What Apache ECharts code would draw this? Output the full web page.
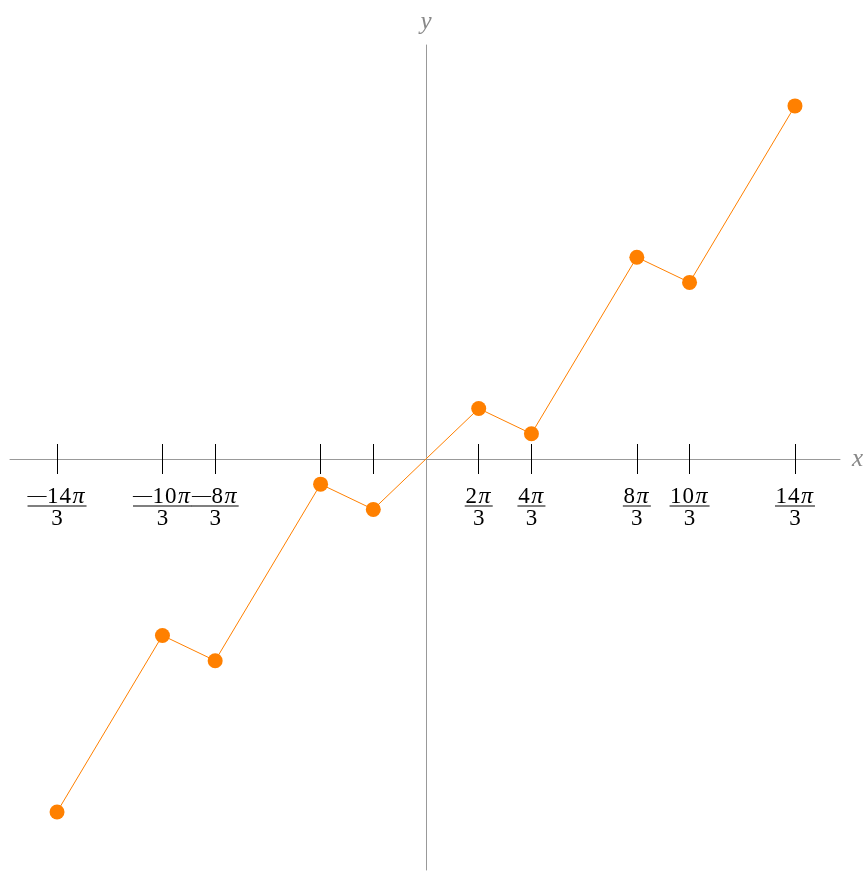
<!DOCTYPE html>
<html>
<head>
<meta charset="utf-8">
<script src="https://cdn.jsdelivr.net/npm/echarts@6/dist/echarts.min.js"></script>
<style>
html,body{margin:0;padding:0;background:#fff;}
#chart{width:866px;height:871px;}
</style>
</head>
<body>
<div id="chart"></div>
<script>
// Data: x in multiples of 2π/3, y in multiples of π/3
var xSteps = [-7, -5, -4, -2, -1, 1, 2, 4, 5, 7];
var ySteps = [-14, -7, -8, -1, -2, 2, 1, 8, 7, 14];
// Tick positions (multiples of 2π/3) and which get labels
var tickSteps = [-7, -5, -4, -2, -1, 1, 2, 4, 5, 7];
var labelSteps = [-7, -5, -4, 1, 2, 4, 5, 7];

var STEP = 2 * Math.PI / 3;
var YUNIT = Math.PI / 3;
var data = xSteps.map(function (k, i) { return [k * STEP, ySteps[i] * YUNIT]; });
var tickVals = tickSteps.map(function (k) { return k * STEP; });
var labelVals = labelSteps.map(function (k) { return k * STEP; });

var FONT = '"Liberation Serif", "Times New Roman", serif';
var FS = 23, FS_MINUS = 19, FS_PI = 24;
var DIGIT_PAD = 0.5, PI_PAD_L = 1, PI_PAD_R = 2;
var cv = document.createElement('canvas').getContext('2d');
function tw(t, size, italic) {
  cv.font = (italic ? 'italic ' : '') + size + 'px "Liberation Serif"';
  return cv.measureText(t).width;
}
var rich = {
  m: {fontFamily: FONT, fontSize: FS_MINUS, color: '#000', lineHeight: 17, align: 'center'},
  n: {fontFamily: FONT, fontSize: FS, color: '#000', lineHeight: 17, align: 'center', padding: [0, DIGIT_PAD, 0, DIGIT_PAD]},
  p: {fontFamily: FONT, fontSize: FS_PI, fontStyle: 'italic', color: '#000', lineHeight: 17, align: 'center', padding: [0, PI_PAD_R, 0, PI_PAD_L]},
  d: {fontFamily: FONT, fontSize: FS, color: '#000', lineHeight: 23, align: 'center'}
};
var MINUS = '\u2014';
function ruleKey(k) { return 'l' + (k < 0 ? 'm' + (-k) : k); }
labelSteps.forEach(function (k) {
  var s = '' + Math.abs(2 * k);
  var w = (k < 0 ? tw(MINUS, FS_MINUS, false) : 0) + tw('\u03c0', FS_PI, true) + PI_PAD_L + PI_PAD_R;
  for (var i = 0; i < s.length; i++) w += tw(s[i], FS, false) + 2 * DIGIT_PAD;
  rich[ruleKey(k)] = {width: Math.round(w), height: 1, lineHeight: 2, backgroundColor: '#000', align: 'center', fontSize: 2};
});

var W = 866, H = 871;
var XMIN = -16.53, XMAX = 16.45, YMIN = -17.07, YMAX = 17.19;
var GL = 10, GR = 26, GT = 45, GB = 1;
var zeroX = GL + (0 - XMIN) / (XMAX - XMIN) * (W - GL - GR);
var zeroY = GT + (YMAX - 0) / (YMAX - YMIN) * (H - GT - GB);
var zx = Math.round(zeroX), zy = Math.round(zeroY);

var hiddenX = function (g) { return {gridIndex: g, type: 'value', min: XMIN, max: XMAX, show: false}; };
var hiddenY = function (g) { return {gridIndex: g, type: 'value', min: YMIN, max: YMAX, show: false}; };
var AX = '#999';

var chart = echarts.init(document.getElementById('chart'));
chart.setOption({
  animation: false,
  backgroundColor: '#fff',
  grid: [
    {left: GL, right: GR, top: GT, bottom: GB, outerBoundsMode: 'none', containLabel: false},
    {left: GL, right: GR, top: GT, bottom: H - zy, outerBoundsMode: 'none', containLabel: false},
    {left: GL, right: GR, top: zy, bottom: GB, outerBoundsMode: 'none', containLabel: false},
    {left: GL, right: W - zx, top: GT, bottom: GB, outerBoundsMode: 'none', containLabel: false}
  ],
  xAxis: [
    hiddenX(0),
    {
      gridIndex: 1, type: 'value', min: XMIN, max: XMAX, position: 'bottom',
      name: 'x', nameLocation: 'end', nameGap: 12,
      nameTextStyle: {fontFamily: FONT, fontStyle: 'italic', fontSize: 25, color: '#888'},
      axisLine: {show: true, onZero: false, lineStyle: {color: AX, width: 1}},
      axisTick: {show: true, inside: false, length: 15, customValues: tickVals, lineStyle: {color: '#000', width: 1}},
      axisLabel: {
        show: true, margin: 29, customValues: labelVals, hideOverlap: false,
        formatter: function (v) {
          var k = Math.round(v / STEP);
          var s = '' + Math.abs(2 * k);
          var num = k < 0 ? '{m|' + MINUS + '}' : '';
          for (var i = 0; i < s.length; i++) num += '{n|' + s[i] + '}';
          return num + '{p|\u03c0}\n{' + ruleKey(k) + '|\u00a0}\n{d|3}';
        },
        rich: rich
      },
      splitLine: {show: false}
    },
    {
      gridIndex: 2, type: 'value', min: XMIN, max: XMAX, position: 'top',
      axisLine: {show: false, onZero: false},
      axisTick: {show: true, inside: false, length: 15, customValues: tickVals, lineStyle: {color: '#000', width: 1}},
      axisLabel: {show: false},
      splitLine: {show: false}
    },
    hiddenX(3)
  ],
  yAxis: [
    hiddenY(0),
    hiddenY(1),
    hiddenY(2),
    {
      gridIndex: 3, type: 'value', min: YMIN, max: YMAX, position: 'right',
      name: 'y', nameLocation: 'end', nameGap: 10,
      nameTextStyle: {fontFamily: FONT, fontStyle: 'italic', fontSize: 25, color: '#888', align: 'center'},
      axisLine: {show: true, onZero: false, lineStyle: {color: AX, width: 1}},
      axisTick: {show: false},
      axisLabel: {show: false},
      splitLine: {show: false}
    }
  ],
  series: [{
    type: 'line',
    data: data,
    xAxisIndex: 0,
    yAxisIndex: 0,
    symbol: 'circle',
    symbolSize: 15,
    showAllSymbol: true,
    lineStyle: {color: 'rgb(255,128,0)', width: 1},
    itemStyle: {color: 'rgb(255,128,0)'},
    z: 5
  }]
});
</script>
</body>
</html>
